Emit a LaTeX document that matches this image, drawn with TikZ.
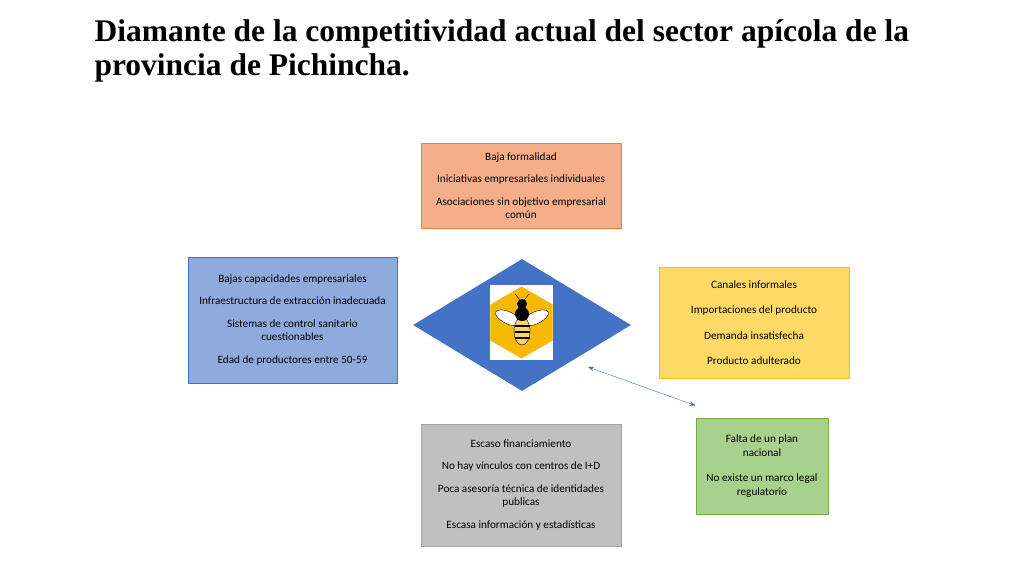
\documentclass[tikz,border=0pt]{standalone}
\usepackage{fontspec}
\setmainfont{Liberation Serif}
\newfontfamily\boxfont{Carlito}
\usetikzlibrary{arrows.meta}
\usetikzlibrary{positioning}
\usetikzlibrary{shapes}
\definecolor{orfill}{HTML}{F5AE8A}
\definecolor{ordraw}{HTML}{ED7D31}
\definecolor{blfill}{HTML}{8FAADC}
\definecolor{bldraw}{HTML}{4472C4}
\definecolor{yefill}{HTML}{FFD966}
\definecolor{yedraw}{HTML}{FFC000}
\definecolor{grfill}{HTML}{C0C0C0}
\definecolor{grdraw}{HTML}{A5A5A5}
\definecolor{gnfill}{HTML}{A9D18E}
\definecolor{gndraw}{HTML}{70AD47}
\definecolor{honey}{HTML}{F6B800}
\tikzset{
  factor/.style={draw,thick,align=center,inner sep=2pt,
    font=\boxfont\fontsize{11.2}{13.5}\selectfont},
}
\begin{document}
\begin{tikzpicture}[x=1pt,y=-1pt]
	\useasboundingbox (0,0) rectangle (1024,576);
	\node[anchor=north west,align=left,font=\bfseries\fontsize{31.5}{34}\selectfont] (title) at (91,16)
	  {Diamante de la competitividad actual del sector apícola de la\\provincia de Pichincha.};
	% diamond
	\node[diamond,fill=bldraw,minimum width=218pt,minimum height=132pt,inner sep=0pt,aspect=1.65] (core) at (522,325) {};
	\node[fill=white,minimum width=63pt,minimum height=75pt,inner sep=0pt] (logo) at (521.5,322.5) {};
	\node[regular polygon,regular polygon sides=6,shape border rotate=90,fill=honey,minimum size=72pt,inner sep=0pt] (hex) at (logo) {};
	\begin{scope}[shift={(522,322)}]
	  \fill[white,draw=black,thin,rotate=-25] (-14,2) ellipse (14 and 6);
	  \fill[white,draw=black,thin,rotate=25] (14,2) ellipse (14 and 6);
	  \fill[honey!60!white,draw=black] (0,9) ellipse (8 and 14);
	  \foreach \yy in {4,10,16} \draw[very thick] (-7.5,\yy) -- (7.5,\yy);
	  \fill[black] (0,-8) ellipse (7 and 7);
	  \fill[black] (0,-18) circle (5);
	  \draw (-2,-22) -- (-7,-28) (2,-22) -- (7,-28);
	\end{scope}
	% boxes
	\node[factor,fill=orfill,draw=ordraw,minimum width=200pt,minimum height=85pt] (top) at (521,185.5)
	  {Baja formalidad\\[9pt]Iniciativas empresariales individuales\\[9pt]Asociaciones sin objetivo empresarial\\común};
	\node[factor,fill=blfill,draw=bldraw,minimum width=209pt,minimum height=126pt] (left) at (292.5,320)
	  {Bajas capacidades empresariales\\[9pt]Infraestructura de extracción inadecuada\\[9pt]Sistemas de control sanitario\\cuestionables\\[9pt]Edad de productores entre 50-59};
	\node[factor,fill=yefill,draw=yedraw,minimum width=190pt,minimum height=111pt] (right) at (754,322.5)
	  {Canales informales\\[12pt]Importaciones del producto\\[12pt]Demanda insatisfecha\\[12pt]Producto adulterado};
	\node[factor,fill=grfill,draw=grdraw,minimum width=200pt,minimum height=122pt] (bottom) at (521,485)
	  {Escaso financiamiento\\[9pt]No hay vínculos con centros de I+D\\[9pt]Poca asesoría técnica de identidades\\publicas\\[9pt]Escasa información y estadísticas};
	\node[factor,fill=gnfill,draw=gndraw,minimum width=132pt,minimum height=96pt] (gov) at (762,466)
	  {Falta de un plan\\nacional\\[12pt]No existe un marco legal\\regulatorio};
	\coordinate (tip) at (588,367);
	\draw[bldraw,{Stealth[length=6pt]}-{Stealth[length=6pt]}] (tip) -- ([yshift=12pt]gov.north west);
\end{tikzpicture}
\end{document}
